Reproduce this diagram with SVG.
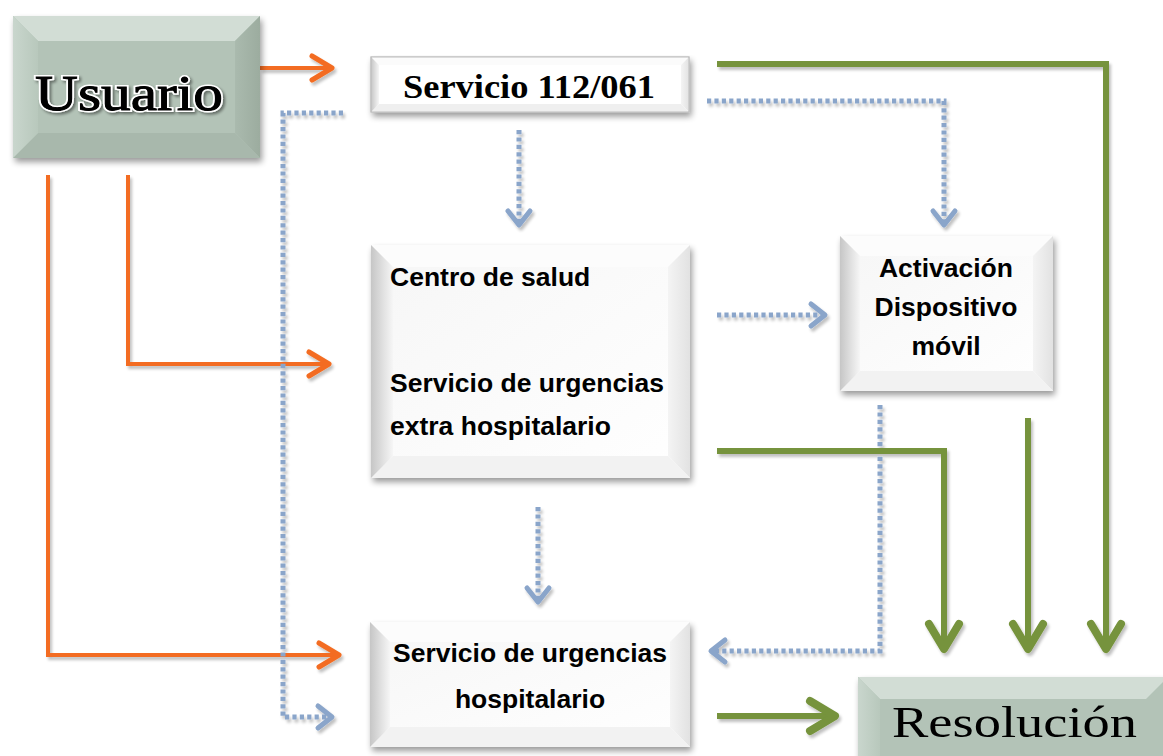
<svg xmlns="http://www.w3.org/2000/svg" width="1163" height="756" viewBox="0 0 1163 756">
<style>
  .serif { font-family: "Liberation Serif", "DejaVu Serif", serif; }
  .sans { font-family: "Liberation Sans", Arial, sans-serif; font-weight: bold; font-size: 26.5px; fill: #000; }
  .orange { fill: none; stroke: #F36C21; stroke-width: 4; stroke-linejoin: miter; }
  .blue { fill: none; stroke: #8AA5CA; stroke-width: 5; stroke-dasharray: 4.2 3.2; }
  .green { fill: none; stroke: #76933C; stroke-width: 6; stroke-linejoin: miter; }
</style>
<defs>
  <filter id="shadow" x="-10%" y="-10%" width="130%" height="140%">
    <feGaussianBlur in="SourceAlpha" stdDeviation="3"/>
    <feOffset dx="2" dy="4" result="b"/>
    <feComponentTransfer><feFuncA type="linear" slope="0.4"/></feComponentTransfer>
    <feMerge><feMergeNode/><feMergeNode in="SourceGraphic"/></feMerge>
  </filter>
  <filter id="lshadow" x="-5%" y="-5%" width="110%" height="110%">
    <feGaussianBlur in="SourceAlpha" stdDeviation="1.5"/>
    <feOffset dx="1.5" dy="2.5"/>
    <feComponentTransfer><feFuncA type="linear" slope="0.25"/></feComponentTransfer>
    <feMerge><feMergeNode/><feMergeNode in="SourceGraphic"/></feMerge>
  </filter>
  <filter id="tshadow" x="-10%" y="-20%" width="120%" height="150%">
    <feGaussianBlur in="SourceAlpha" stdDeviation="1.5"/>
    <feOffset dx="2" dy="2"/>
    <feComponentTransfer><feFuncA type="linear" slope="0.45"/></feComponentTransfer>
    <feMerge><feMergeNode/><feMergeNode in="SourceGraphic"/></feMerge>
  </filter>
  <linearGradient id="gLeftW" x1="0" y1="0" x2="1" y2="0">
    <stop offset="0" stop-color="#c6c6c6"/><stop offset="1" stop-color="#f6f6f6"/>
  </linearGradient>
  <linearGradient id="gRightW" x1="0" y1="0" x2="1" y2="0">
    <stop offset="0" stop-color="#f4f4f4"/><stop offset="1" stop-color="#e2e2e2"/>
  </linearGradient>
  <linearGradient id="gMainW" x1="0" y1="0" x2="1" y2="1">
    <stop offset="0" stop-color="#f6f6f6"/><stop offset="1" stop-color="#ffffff"/>
  </linearGradient>
  <linearGradient id="gLeftG" x1="0" y1="0" x2="1" y2="0">
    <stop offset="0" stop-color="#c9d6cd"/><stop offset="1" stop-color="#b8c8bc"/>
  </linearGradient>
  <linearGradient id="gRightG" x1="0" y1="0" x2="1" y2="0">
    <stop offset="0" stop-color="#aabaae"/><stop offset="1" stop-color="#9cac9f"/>
  </linearGradient>
  <marker id="mO" viewBox="-26 -16 30 32" markerWidth="30" markerHeight="32" refX="0" refY="0" orient="auto" markerUnits="userSpaceOnUse" overflow="visible">
    <path d="M-20,-12 L0,0 L-20,12" fill="none" stroke="#F36C21" stroke-width="5" stroke-linecap="round" stroke-linejoin="round" stroke-dasharray="none"/>
  </marker>
  <marker id="mB" viewBox="-20 -15 24 30" markerWidth="24" markerHeight="30" refX="0" refY="0" orient="auto" markerUnits="userSpaceOnUse" overflow="visible">
    <path d="M-14,-11 L0,0 L-14,11" fill="none" stroke="#8AA5CA" stroke-width="5" stroke-linecap="round" stroke-linejoin="round" stroke-dasharray="none"/>
  </marker>
  <marker id="mG" viewBox="-30 -20 34 40" markerWidth="34" markerHeight="40" refX="0" refY="0" orient="auto" markerUnits="userSpaceOnUse" overflow="visible">
    <path d="M-25,-15 L0,0 L-25,15" fill="none" stroke="#76933C" stroke-width="8" stroke-linecap="round" stroke-linejoin="round" stroke-dasharray="none"/>
  </marker>
</defs>
<rect width="1163" height="756" fill="#ffffff"/>

<g id="connectors" filter="url(#lshadow)">
  <path class="orange" d="M260,68 L332,68" marker-end="url(#mO)"/>
  <path class="orange" d="M128,175 L128,364 L329,364" marker-end="url(#mO)"/>
  <path class="orange" d="M48,175 L48,655 L339,655" marker-end="url(#mO)"/>
  <path class="blue" d="M343,113 L283,113 L283,717 L332,717" marker-end="url(#mB)"/>
  <path class="blue" d="M519,130 L519,225" marker-end="url(#mB)"/>
  <path class="blue" d="M707,101 L944,101 L944,225" marker-end="url(#mB)"/>
  <path class="blue" d="M717,315 L825,315" marker-end="url(#mB)"/>
  <path class="blue" d="M538,507 L538,602" marker-end="url(#mB)"/>
  <path class="blue" d="M880,405 L880,651 L711,651" marker-end="url(#mB)"/>
  <path class="green" d="M717,64 L1106,64 L1106,649" marker-end="url(#mG)"/>
  <path class="green" d="M717,451 L944,451 L944,649" marker-end="url(#mG)"/>
  <path class="green" d="M1028,418 L1028,649" marker-end="url(#mG)"/>
  <path class="green" d="M717,716 L835,716" marker-end="url(#mG)"/>
</g>

<g id="usuario">
  <g filter="url(#shadow)">
    <rect x="13" y="16" width="247" height="142" fill="#b3c3b7"/>
  </g>
  <polygon points="13,16 260,16 235,41 38,41" fill="#d2ddd5"/>
  <polygon points="260,16 260,158 235,133 235,41" fill="url(#gRightG)"/>
  <polygon points="13,158 260,158 235,133 38,133" fill="#a8b8ac"/>
  <polygon points="13,16 38,41 38,133 13,158" fill="url(#gLeftG)"/>
  <text x="35" y="110" class="serif" font-size="50" textLength="188" lengthAdjust="spacingAndGlyphs" fill="#000" stroke="#ffffff" stroke-width="4" paint-order="stroke" filter="url(#tshadow)">Usuario</text>
  <text x="35" y="110" class="serif" font-size="50" textLength="188" lengthAdjust="spacingAndGlyphs" fill="#000" stroke="#000" stroke-width="0.9">Usuario</text>
</g>

<g id="servicio112">
  <g filter="url(#shadow)">
    <rect x="371" y="57" width="318" height="55" fill="#ffffff" stroke="#bdbdbd" stroke-width="1"/>
  </g>
  <polygon points="371,57 689,57 681,65 379,65" fill="#fbfbfb"/>
  <polygon points="689,57 689,112 681,104 681,65" fill="url(#gRightW)"/>
  <polygon points="371,112 689,112 681,104 379,104" fill="#efefef"/>
  <polygon points="371,57 379,65 379,104 371,112" fill="url(#gLeftW)"/>
  <rect x="371" y="57" width="318" height="55" fill="none" stroke="#bdbdbd" stroke-width="1"/>
  <text x="529" y="98" class="serif" font-size="33" font-weight="bold" text-anchor="middle" textLength="252" lengthAdjust="spacingAndGlyphs" fill="#000">Servicio 112/061</text>
</g>

<g id="centro">
  <g filter="url(#shadow)">
    <rect x="371" y="245" width="319" height="233" fill="url(#gMainW)"/>
  </g>
  <polygon points="371,245 690,245 668,267 393,267" fill="#fcfcfc"/>
  <polygon points="690,245 690,478 668,456 668,267" fill="url(#gRightW)"/>
  <polygon points="371,478 690,478 668,456 393,456" fill="#f2f2f2"/>
  <polygon points="371,245 393,267 393,456 371,478" fill="url(#gLeftW)"/>
  <text x="390" y="286" class="sans">Centro de salud</text>
  <text x="390" y="392" class="sans">Servicio de urgencias</text>
  <text x="390" y="435" class="sans">extra hospitalario</text>
</g>

<g id="activacion">
  <g filter="url(#shadow)">
    <rect x="840" y="236" width="213" height="155" fill="url(#gMainW)"/>
  </g>
  <polygon points="840,236 1053,236 1033,256 860,256" fill="#fcfcfc"/>
  <polygon points="1053,236 1053,391 1033,371 1033,256" fill="url(#gRightW)"/>
  <polygon points="840,391 1053,391 1033,371 860,371" fill="#f2f2f2"/>
  <polygon points="840,236 860,256 860,371 840,391" fill="url(#gLeftW)"/>
  <text x="946" y="277" class="sans" text-anchor="middle">Activación</text>
  <text x="946" y="316" class="sans" text-anchor="middle">Dispositivo</text>
  <text x="946" y="355" class="sans" text-anchor="middle">móvil</text>
</g>

<g id="hospitalario">
  <g filter="url(#shadow)">
    <rect x="370" y="622" width="320" height="125" fill="url(#gMainW)"/>
  </g>
  <polygon points="370,622 690,622 670,642 390,642" fill="#fcfcfc"/>
  <polygon points="690,622 690,747 670,727 670,642" fill="url(#gRightW)"/>
  <polygon points="370,747 690,747 670,727 390,727" fill="#f2f2f2"/>
  <polygon points="370,622 390,642 390,727 370,747" fill="url(#gLeftW)"/>
  <text x="530" y="662" class="sans" text-anchor="middle">Servicio de urgencias</text>
  <text x="530" y="708" class="sans" text-anchor="middle">hospitalario</text>
</g>

<g id="resolucion">
  <g filter="url(#shadow)">
    <rect x="858" y="677" width="310" height="95" fill="#b3c3b7"/>
  </g>
  <polygon points="858,677 1168,677 1146,699 880,699" fill="#d2ddd5"/>
  <polygon points="858,677 880,699 880,760 858,772" fill="url(#gLeftG)"/>
  <text x="892" y="737" class="serif" font-size="45" textLength="245" lengthAdjust="spacingAndGlyphs" fill="#000">Resolución</text>
</g>
</svg>
